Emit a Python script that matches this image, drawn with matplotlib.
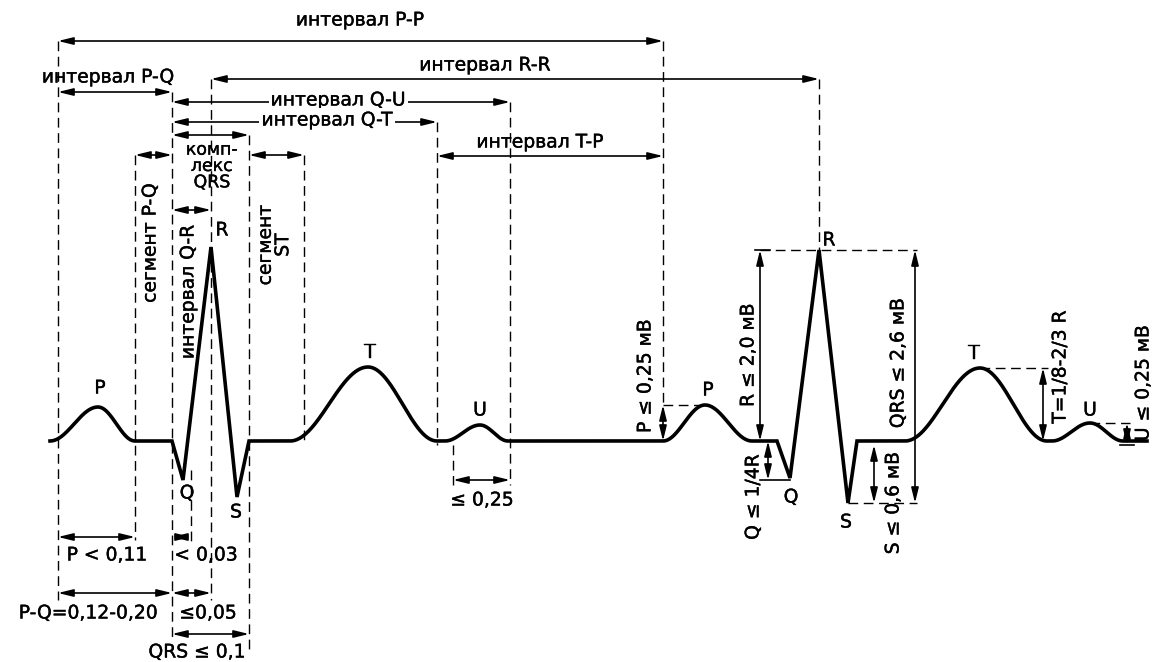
import numpy as np
import matplotlib
matplotlib.use("Agg")
import matplotlib.pyplot as plt
import matplotlib.patheffects as pe

plt.rcParams['font.family'] = ['DejaVu Sans']

# --- данные схемы (в пикселях исходной картинки) ---
baseline = 441

# зубцы P, T, U: начало, вершина, конец, уровень вершины
wave_names = ["P", "T", "U", "P", "T", "U"]
wave_start = [50, 290, 445, 663, 905, 1052]
wave_peak_x = [98, 368, 480, 705, 980, 1090]
wave_end = [135, 437, 508, 752, 1047, 1123]
wave_peak_y = [407, 367, 425, 405, 368, 423]

# комплексы QRS (ломаная)
qrs1_x = [172, 183, 211, 237, 249]
qrs1_y = [441, 480, 247, 497, 441]
qrs2_x = [777, 790, 819, 848, 857]
qrs2_y = [441, 478, 250, 503, 441]

trace_end = 1147

# пунктирные вертикали: x, верх, низ
vdash_x = [58, 135, 172, 191, 211, 249, 304, 437, 453, 510, 663, 819]
vdash_top = [41, 155, 92, 470, 79, 135, 155, 122, 445, 102, 41, 79]
vdash_bot = [600, 540, 642, 545, 600, 650, 440, 445, 485, 485, 405, 250]

# горизонтальные размерные стрелки: x0, x1, y
harr_x0 = [58, 211, 58, 172, 172, 172, 135, 249, 437, 172, 58, 172, 58, 172, 172, 453]
harr_x1 = [663, 819, 172, 510, 437, 249, 172, 304, 663, 211, 135, 191, 172, 211, 249, 510]
harr_y = [41, 79, 92, 102, 122, 135, 155, 155, 156, 210, 537, 537, 593, 593, 634, 480]

# вертикальные стрелки амплитуд: x, y0, y1
varr_x = [663, 760, 768, 874, 915, 1043, 1127]
varr_y0 = [405, 250, 441, 445, 250, 368, 423]
varr_y1 = [441, 441, 480, 503, 503, 441, 445]

# пунктирные горизонтали уровней
hdash_x0 = [663, 760, 848, 980, 1090]
hdash_x1 = [705, 917, 917, 1048, 1130]
hdash_y = [405, 250, 503, 368, 423]


def bump(x0, xp, x1, yp, step=0.5):
    xl = np.arange(x0, xp, step)
    xr = np.arange(xp, x1 + step, step)
    amp = baseline - yp
    yl = baseline - amp * (1 - np.cos(np.pi * (xl - x0) / (xp - x0))) / 2
    yr = baseline - amp * (1 + np.cos(np.pi * (xr - xp) / (x1 - xp))) / 2
    return np.concatenate([xl, xr]), np.concatenate([yl, yr])


# --- собираем кривую ЭКГ ---
segs_x, segs_y = [], []
order = [("w", 0), ("q", qrs1_x, qrs1_y), ("w", 1), ("w", 2), ("w", 3),
         ("q", qrs2_x, qrs2_y), ("w", 4), ("w", 5)]
for item in order:
    if item[0] == "w":
        i = item[1]
        bx, by = bump(wave_start[i], wave_peak_x[i], wave_end[i], wave_peak_y[i])
        segs_x.append(bx)
        segs_y.append(by)
    else:
        segs_x.append(np.array(item[1], dtype=float))
        segs_y.append(np.array(item[2], dtype=float))
segs_x.append(np.array([trace_end], dtype=float))
segs_y.append(np.array([baseline], dtype=float))
ecg_x = np.concatenate(segs_x)
ecg_y = np.concatenate(segs_y)

fig = plt.figure(figsize=(11.56, 6.62), dpi=100)
ax = fig.add_axes([0, 0, 1, 1])
ax.set_xlim(0, 1156)
ax.set_ylim(662, 0)
ax.axis("off")

ax.plot(ecg_x, ecg_y, color="black", lw=2.6, solid_joinstyle="miter")

dash = (0, (7, 4))
for x, t, b in zip(vdash_x, vdash_top, vdash_bot):
    ax.plot([x, x], [t, b], color="black", lw=1.0, linestyle=dash)
for x0, x1, y in zip(hdash_x0, hdash_x1, hdash_y):
    ax.plot([x0, x1], [y, y], color="black", lw=1.0, linestyle=dash)

aprops = dict(arrowstyle="<|-|>,head_length=0.9,head_width=0.22",
              color="black", lw=1.2, shrinkA=0, shrinkB=0)
for x0, x1, y in zip(harr_x0, harr_x1, harr_y):
    ax.annotate("", xy=(x1, y), xytext=(x0, y), arrowprops=aprops)
for x, y0, y1 in zip(varr_x, varr_y0, varr_y1):
    ax.annotate("", xy=(x, y1), xytext=(x, y0), arrowprops=aprops)

# засечки
ax.plot([755, 770], [250, 250], color="black", lw=1.2)
ax.plot([760, 790], [480, 480], color="black", lw=1.2)
ax.plot([1120, 1134], [445, 445], color="black", lw=1.2)

fs = 13.5
thick = [pe.withStroke(linewidth=0.3, foreground="black")]
white = dict(facecolor="white", edgecolor="none", pad=1.5)

labels = [
    ("интервал P-P", 360, 20, 0, None),
    ("интервал P-Q", 108, 77, 0, None),
    ("интервал R-R", 485, 65, 0, None),
    ("интервал Q-U", 338, 100, 0, white),
    ("интервал Q-T", 327, 120, 0, white),
    ("интервал T-P", 540, 142, 0, None),
    ("P < 0,11", 107, 555, 0, None),
    ("< 0,03", 206, 555, 0, None),
    ("P-Q=0,12-0,20", 88, 613, 0, None),
    ("≤0,05", 208, 613, 0, None),
    ("QRS ≤ 0,1", 197, 652, 0, None),
    ("≤ 0,25", 482, 500, 0, None),
    ("сегмент P-Q", 150, 243, 90, None),
    ("интервал Q-R", 188, 292, 90, None),
    ("P ≤ 0,25 мВ", 645, 376, 90, None),
    ("R ≤ 2,0 мВ", 748, 355, 90, None),
    ("Q ≤ 1/4R", 753, 497, 90, None),
    ("QRS ≤ 2,6 мВ", 898, 363, 90, None),
    ("S ≤ 0,6 мВ", 893, 503, 90, None),
    ("T=1/8-2/3 R", 1060, 367, 90, None),
    ("U ≤ 0,25 мВ", 1143, 383, 90, None),
]
for txt, x, y, rot, bb in labels:
    ax.text(x, y, txt, fontsize=fs, rotation=rot, ha="center", va="center",
            bbox=bb, path_effects=thick)

ax.text(212, 166, "комп-\nлекс\nQRS", fontsize=12.5, ha="center",
        va="center", linespacing=0.88, path_effects=thick)
ax.text(274, 245, "сегмент\nST", fontsize=fs, rotation=90, ha="center",
        va="center", linespacing=0.9, path_effects=thick)

letters = [("P", 100, 388), ("Q", 187, 493), ("R", 222, 230), ("S", 236, 512),
           ("T", 370, 352), ("U", 480, 410), ("P", 708, 390), ("Q", 791, 497),
           ("R", 829, 240), ("S", 846, 522), ("T", 974, 353), ("U", 1090, 410)]
for txt, x, y in letters:
    ax.text(x, y, txt, fontsize=fs, ha="center", va="center",
            path_effects=thick)

fig.savefig("out.png", dpi=100, facecolor="white")
